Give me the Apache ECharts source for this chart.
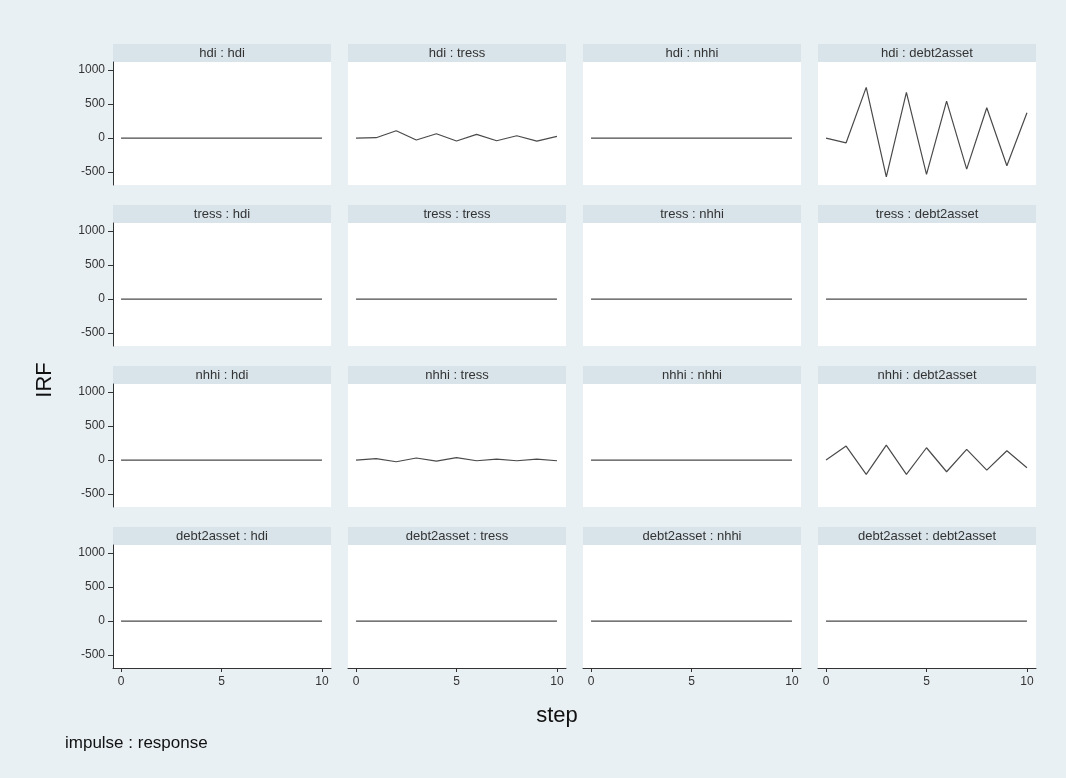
<!DOCTYPE html>
<html>
<head>
<meta charset="utf-8">
<script src="https://cdn.jsdelivr.net/npm/echarts@6/dist/echarts.min.js"></script>
<style>
html,body{margin:0;padding:0;background:#e9f0f3;}
#chart{width:1066px;height:778px;}
</style>
</head>
<body>
<div id="chart"></div>
<script>
// ---- data ----
const steps = [0, 1, 2, 3, 4, 5, 6, 7, 8, 9, 10];
const vars = ['hdi', 'tress', 'nhhi', 'debt2asset'];
const xTicks = [0, 5, 10];
const yTicks = [-500, 0, 500, 1000];

const irf_hdi_hdi = [0, 0, 0, 0, 0, 0, 0, 0, 0, 0, 0];
const irf_hdi_tress = [0, 5, 107, -29, 63, -44, 54, -40, 34, -44, 25];
const irf_hdi_nhhi = [0, 0, 0, 0, 0, 0, 0, 0, 0, 0, 0];
const irf_hdi_debt2asset = [0, -70, 745, -570, 672, -535, 544, -456, 446, -407, 372];

const irf_tress_hdi = [0, 0, 0, 0, 0, 0, 0, 0, 0, 0, 0];
const irf_tress_tress = [0, 0, 0, 0, 0, 0, 0, 0, 0, 0, 0];
const irf_tress_nhhi = [0, 0, 0, 0, 0, 0, 0, 0, 0, 0, 0];
const irf_tress_debt2asset = [0, 0, 0, 0, 0, 0, 0, 0, 0, 0, 0];

const irf_nhhi_hdi = [0, 0, 0, 0, 0, 0, 0, 0, 0, 0, 0];
const irf_nhhi_tress = [0, 20, -25, 30, -15, 35, -10, 15, -10, 15, -10];
const irf_nhhi_nhhi = [0, 0, 0, 0, 0, 0, 0, 0, 0, 0, 0];
const irf_nhhi_debt2asset = [0, 206, -210, 220, -210, 181, -172, 157, -147, 137, -113];

const irf_debt2asset_hdi = [0, 0, 0, 0, 0, 0, 0, 0, 0, 0, 0];
const irf_debt2asset_tress = [0, 0, 0, 0, 0, 0, 0, 0, 0, 0, 0];
const irf_debt2asset_nhhi = [0, 0, 0, 0, 0, 0, 0, 0, 0, 0, 0];
const irf_debt2asset_debt2asset = [0, 0, 0, 0, 0, 0, 0, 0, 0, 0, 0];

const irf = {
  hdi: {hdi: irf_hdi_hdi, tress: irf_hdi_tress, nhhi: irf_hdi_nhhi, debt2asset: irf_hdi_debt2asset},
  tress: {hdi: irf_tress_hdi, tress: irf_tress_tress, nhhi: irf_tress_nhhi, debt2asset: irf_tress_debt2asset},
  nhhi: {hdi: irf_nhhi_hdi, tress: irf_nhhi_tress, nhhi: irf_nhhi_nhhi, debt2asset: irf_nhhi_debt2asset},
  debt2asset: {hdi: irf_debt2asset_hdi, tress: irf_debt2asset_tress, nhhi: irf_debt2asset_nhhi, debt2asset: irf_debt2asset_debt2asset}
};

// ---- layout ----
const colLeft = [113, 348, 583, 818];
const panelW = 218;
const plotTop0 = 62;
const plotH = 123;
const rowPitch = 161;
const headerH = 18;
const FONT = '"Liberation Sans", Arial, sans-serif';

const grids = [], xAxes = [], yAxes = [], series = [], graphics = [];
let k = 0;
vars.forEach((imp, r) => {
  vars.forEach((resp, c) => {
    const top = plotTop0 + r * rowPitch;
    const left = colLeft[c];
    grids.push({left: left, top: top, width: panelW, height: plotH, show: true,
      backgroundColor: '#ffffff', borderWidth: 0});
    const bottomRow = r === vars.length - 1;
    const leftCol = c === 0;
    xAxes.push({
      gridIndex: k, type: 'value', min: -0.4, max: 10.45,
      show: bottomRow,
      axisLine: {show: true, onZero: false, lineStyle: {color: '#333', width: 1}},
      axisTick: {show: true, customValues: xTicks, length: 4, lineStyle: {color: '#333'}},
      axisLabel: {show: true, customValues: xTicks, fontSize: 12, color: '#333', fontFamily: FONT, margin: 8},
      splitLine: {show: false}
    });
    yAxes.push({
      gridIndex: k, type: 'value', min: -690, max: 1118,
      show: leftCol,
      axisLine: {show: true, onZero: false, lineStyle: {color: '#333', width: 1}},
      axisTick: {show: true, customValues: yTicks, length: 5, lineStyle: {color: '#333'}},
      axisLabel: {show: true, customValues: yTicks, fontSize: 12, color: '#333', fontFamily: FONT, margin: 8,
        formatter: v => String(v)},
      splitLine: {show: false}
    });
    series.push({
      type: 'line', xAxisIndex: k, yAxisIndex: k,
      data: steps.map((s, i) => [s, irf[imp][resp][i]]),
      showSymbol: false, symbol: 'none', silent: true, animation: false,
      lineStyle: {color: '#4a4a4a', width: 1.2}
    });
    graphics.push({
      type: 'rect', left: left, top: top - headerH,
      shape: {width: panelW, height: headerH},
      style: {fill: '#d8e3ea'}, silent: true
    });
    graphics.push({
      type: 'text', x: left + panelW / 2, y: top - headerH / 2,
      style: {text: imp + ' : ' + resp, fill: '#333', font: '13px ' + FONT,
        textAlign: 'center', textVerticalAlign: 'middle'}, silent: true
    });
    k++;
  });
});

graphics.push({
  type: 'text', x: 45, y: 380, rotation: Math.PI / 2,
  style: {text: 'IRF', fill: '#111', font: '22px ' + FONT, textAlign: 'center', textVerticalAlign: 'middle'}
});
graphics.push({
  type: 'text', x: 557, y: 716,
  style: {text: 'step', fill: '#111', font: '22px ' + FONT, textAlign: 'center', textVerticalAlign: 'middle'}
});
graphics.push({
  type: 'text', x: 65, y: 743,
  style: {text: 'impulse : response', fill: '#111', font: '17px ' + FONT, textAlign: 'left', textVerticalAlign: 'middle'}
});

const chart = echarts.init(document.getElementById('chart'), null, {renderer: 'canvas'});
chart.setOption({
  backgroundColor: '#e9f0f3',
  animation: false,
  grid: grids,
  xAxis: xAxes,
  yAxis: yAxes,
  series: series,
  graphic: graphics
});
</script>
</body>
</html>
